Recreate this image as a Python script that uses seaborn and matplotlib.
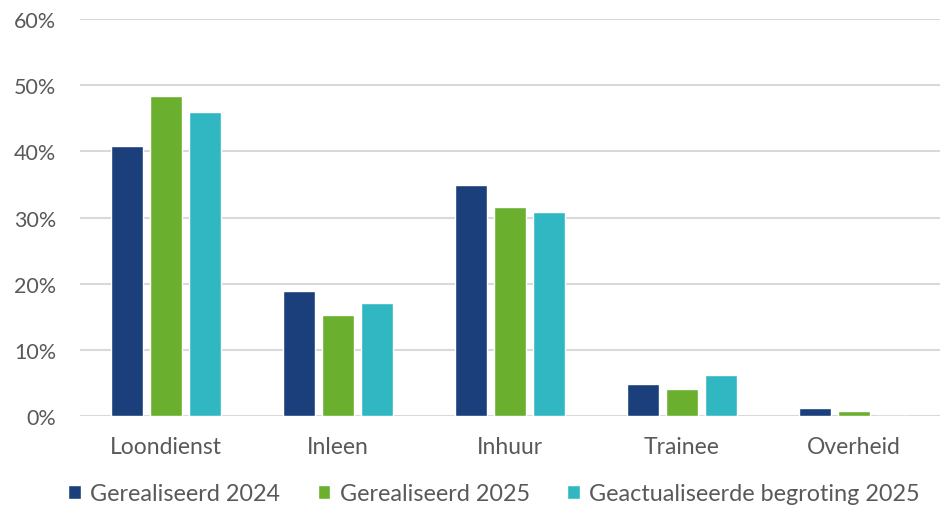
import pandas as pd
import seaborn as sns
import matplotlib.pyplot as plt
from matplotlib.ticker import PercentFormatter

categories = ["Loondienst", "Inleen", "Inhuur", "Trainee", "Overheid"]
series = ["Gerealiseerd 2024", "Gerealiseerd 2025", "Geactualiseerde begroting 2025"]
real_2024 = [40.8, 18.9, 34.9, 4.8, 1.2]
real_2025 = [48.4, 15.3, 31.6, 4.1, 0.8]
begroting_2025 = [46.0, 17.1, 30.9, 6.2, 0.0]
colors = ["#1A3F7A", "#6AAF2E", "#31B7C1"]

df = pd.DataFrame({
    "categorie": categories * 3,
    "reeks": [s for s in series for _ in categories],
    "waarde": real_2024 + real_2025 + begroting_2025,
})

sns.set_style("white")
plt.rcParams["font.family"] = ["Lato", "DejaVu Sans"]
text_color = "#595959"

fig = plt.figure(figsize=(9.41, 5.10), dpi=100)
ax = fig.add_axes([0.085, 0.182, 0.914, 0.779])
sns.barplot(data=df, x="categorie", y="waarde", hue="reeks", palette=colors,
            saturation=1, width=0.68, gap=0.2, ax=ax, zorder=3)

ax.set_ylim(0, 60)
ax.set_yticks(range(0, 61, 10))
ax.yaxis.set_major_formatter(PercentFormatter(decimals=0))
ax.grid(axis="y", color="#D9D9D9", linewidth=1.5, zorder=0)
ax.set_axisbelow(True)
sns.despine(ax=ax, left=True, bottom=True, top=True, right=True)
ax.tick_params(axis="x", length=0, labelsize=16.5, colors=text_color, pad=14)
ax.tick_params(axis="y", length=0, labelsize=15.5, colors=text_color, pad=17)
ax.set_xlabel("")
ax.set_ylabel("")

handles, labels = ax.get_legend_handles_labels()
ax.get_legend().remove()
fig.legend(handles, labels, loc="center", bbox_to_anchor=(494 / 941, 1 - 495 / 510),
           ncol=3, frameon=False, fontsize=16.8, labelcolor=text_color,
           handlelength=0.55, handleheight=0.55, handletextpad=0.4,
           columnspacing=1.6, borderaxespad=0, borderpad=0)

fig.savefig("out.png", dpi=100)
